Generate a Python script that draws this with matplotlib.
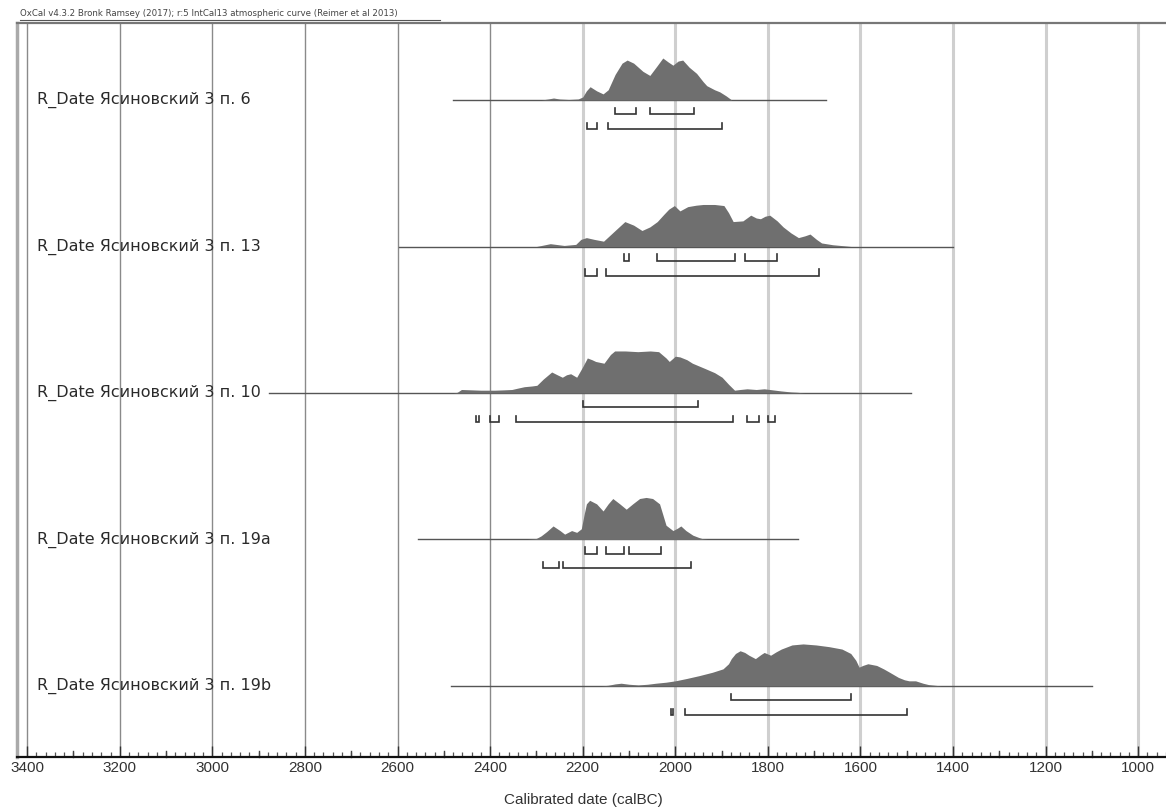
import numpy as np
import matplotlib
matplotlib.use("Agg")
import matplotlib.pyplot as plt
import matplotlib.transforms as mtransforms

# OxCal multiplot, R_Date results for Ясиновский 3
labels = [
    "R_Date Ясиновский 3 п. 6",
    "R_Date Ясиновский 3 п. 13",
    "R_Date Ясиновский 3 п. 10",
    "R_Date Ясиновский 3 п. 19a",
    "R_Date Ясиновский 3 п. 19b",
]

# probability curves (calBC, relative height)
years_6 = [2290, 2275, 2263, 2250, 2230, 2210, 2200, 2192, 2184, 2170, 2156, 2145, 2130, 2115, 2104,
           2090, 2070, 2055, 2040, 2027, 2015, 2005, 1994, 1984, 1970, 1954, 1940, 1932, 1915, 1904,
           1890, 1878]
prob_6 = [0, 1, 2, 1, 0.5, 1, 3, 9, 13, 9, 6, 10, 25, 36, 39,
          36, 28, 24, 33, 41, 37, 34, 38, 39, 32, 26, 18, 14, 10, 8,
          4, 0]

years_13 = [2300, 2270, 2240, 2215, 2204, 2192, 2175, 2155, 2130, 2109, 2090, 2072, 2055, 2039, 2025,
            2014, 2002, 1990, 1973, 1955, 1940, 1915, 1895, 1885, 1875, 1854, 1837, 1825, 1816, 1806,
            1796, 1780, 1767, 1750, 1734, 1720, 1709, 1695, 1684, 1660, 1635, 1620]
prob_13 = [0, 8, 3, 6, 20, 25, 20, 15, 45, 70, 60, 45, 55, 70, 90,
           105, 115, 100, 112, 116, 118, 118, 115, 95, 70, 72, 88, 80, 78, 85,
           88, 72, 55, 38, 25, 30, 35, 20, 10, 5, 2, 0]

years_10 = [2480, 2471, 2462, 2440, 2420, 2400, 2390, 2370, 2353, 2340, 2326, 2310, 2299, 2285, 2267,
            2255, 2244, 2235, 2226, 2213, 2200, 2190, 2180, 2172, 2154, 2140, 2131, 2108, 2081, 2054,
            2036, 2020, 2013, 2000, 1990, 1975, 1963, 1936, 1915, 1899, 1885, 1872, 1860, 1845, 1825,
            1808, 1790, 1772, 1750, 1736, 1720]
prob_10 = [0, 2, 10, 9, 8, 8, 8, 9, 10, 14, 18, 20, 22, 40, 60,
           52, 45, 52, 55, 45, 75, 100, 95, 90, 85, 110, 120, 120, 118, 120,
           118, 100, 90, 105, 103, 95, 85, 70, 58, 45, 25, 8, 10, 12, 10,
           12, 9, 6, 3, 2, 0]

years_19a = [2320, 2300, 2290, 2278, 2264, 2249, 2239, 2224, 2213, 2203, 2197, 2192, 2185, 2170, 2156,
             2145, 2135, 2120, 2106, 2092, 2077, 2063, 2049, 2034, 2027, 2020, 2005, 1995, 1988, 1977,
             1962, 1950, 1941, 1930]
prob_19a = [0, 3, 10, 22, 38, 25, 15, 25, 20, 30, 70, 100, 110, 100, 80,
            100, 115, 100, 85, 100, 115, 118, 115, 100, 70, 40, 25, 32, 38, 25,
            12, 6, 2, 0]

years_19b = [2160, 2145, 2130, 2117, 2100, 2080, 2060, 2042, 2020, 2000, 1975, 1949, 1920, 1897, 1885,
             1879, 1870, 1860, 1850, 1841, 1827, 1815, 1808, 1794, 1782, 1771, 1748, 1724, 1696, 1668,
             1640, 1621, 1610, 1603, 1595, 1584, 1565, 1550, 1537, 1518, 1505, 1495, 1481, 1465, 1453,
             1425]
prob_19b = [0, 2, 6, 8, 5, 3, 5, 8, 11, 15, 22, 30, 40, 50, 65,
            80, 95, 103, 98, 90, 80, 92, 98, 90, 100, 108, 120, 123, 120, 115,
            108, 95, 75, 55, 60, 65, 60, 50, 40, 25, 18, 15, 15, 8, 4,
            0]

curve_years = [years_6, years_13, years_10, years_19a, years_19b]
curve_probs = [prob_6, prob_13, prob_10, prob_19a, prob_19b]

# extent of the thin line under each curve
line_from = [2480, 2597, 2877, 2555, 2485]
line_to = [1675, 1400, 1490, 1735, 1100]

# 68.2% and 95.4% ranges
ranges_68 = [
    [(2130, 2085), (2055, 1960)],
    [(2110, 2100), (2040, 1870), (1850, 1780)],
    [(2200, 1950)],
    [(2195, 2170), (2150, 2110), (2100, 2030)],
    [(1880, 1620)],
]
ranges_95 = [
    [(2190, 2170), (2145, 1900)],
    [(2195, 2170), (2150, 1690)],
    [(2430, 2425), (2400, 2380), (2345, 1875), (1845, 1820), (1800, 1785)],
    [(2285, 2252), (2243, 1965)],
    [(2010, 2005), (1980, 1500)],
]

major_ticks = np.arange(3400, 999, -200)
header = "OxCal v4.3.2 Bronk Ramsey (2017); r:5 IntCal13 atmospheric curve (Reimer et al 2013)"

fig = plt.figure(figsize=(11.66, 8.10), dpi=100)
ax = fig.add_axes([17 / 1166, 1 - 757 / 810, 1 - 17 / 1166, (757 - 23) / 810])
ax.set_xlim(3422, 940)
ax.set_ylim(4.485, -0.526)

# grid
for t in major_ticks:
    if t >= 2400:
        ax.axvline(t, color="#8a8a8a", lw=1.0, zorder=0)
    else:
        ax.axvline(t, color="#cfcfcf", lw=2.2, zorder=0)

peak_h = 0.287
off_68 = 0.096
off_95 = 0.198
tick_h = 0.042

for i in range(len(labels)):
    yrs = np.array(curve_years[i], dtype=float)
    p = np.array(curve_probs[i], dtype=float)
    p = p / p.max()
    ax.plot([line_from[i], line_to[i]], [i, i], color="#555555", lw=1.0, zorder=2)
    ax.fill_between(yrs, i, i - p * peak_h, color="#6f6f6f", lw=0, zorder=3)
    ax.text(3378, i, labels[i], ha="left", va="center", fontsize=11.5,
            color="#2a2a2a", family="DejaVu Sans", zorder=4)
    for rng, off in ((ranges_68[i], off_68), (ranges_95[i], off_95)):
        for a, b in rng:
            y = i + off
            ax.plot([a, a, b, b], [y - tick_h, y, y, y - tick_h], color="#333333",
                    lw=1.2, zorder=3, solid_joinstyle="miter")

# axis
ax.spines["right"].set_visible(False)
ax.spines["bottom"].set_color("#111111")
ax.spines["bottom"].set_linewidth(1.6)
ax.spines["top"].set_color("#777777")
ax.spines["top"].set_linewidth(1.6)
ax.spines["left"].set_color("#aaaaaa")
ax.spines["left"].set_linewidth(2.5)
ax.set_yticks([])
ax.set_xticks(major_ticks)
ax.set_xticks(np.arange(3400, 939, -20), minor=True)
ax.tick_params(axis="x", which="major", direction="in", length=8, width=1.0,
               color="#333333", labelsize=11, pad=3, labelcolor="#333333")
ax.tick_params(axis="x", which="minor", direction="in", length=3.5, width=0.9, color="#555555")
for lab in ax.get_xticklabels():
    lab.set_family("Liberation Sans")
trans = mtransforms.blended_transform_factory(ax.transData, ax.transAxes)
for t in np.arange(3300, 999, -200):
    ax.plot([t, t], [0, 0.0085], color="#444444", lw=1.0, transform=trans, clip_on=False)

fig.text(583 / 1166, 1 - 800 / 810, "Calibrated date (calBC)", ha="center", va="center",
         fontsize=11, color="#333333", family="Liberation Sans")

# header line
fig.text(20 / 1166, 1 - 14 / 810, header, ha="left", va="center", fontsize=6.2,
         color="#444444", family="DejaVu Sans")
fig.add_artist(plt.Line2D([20 / 1166, 440 / 1166], [1 - 20 / 810, 1 - 20 / 810],
                          color="#555555", lw=0.8))

fig.savefig("out.png", dpi=100)
